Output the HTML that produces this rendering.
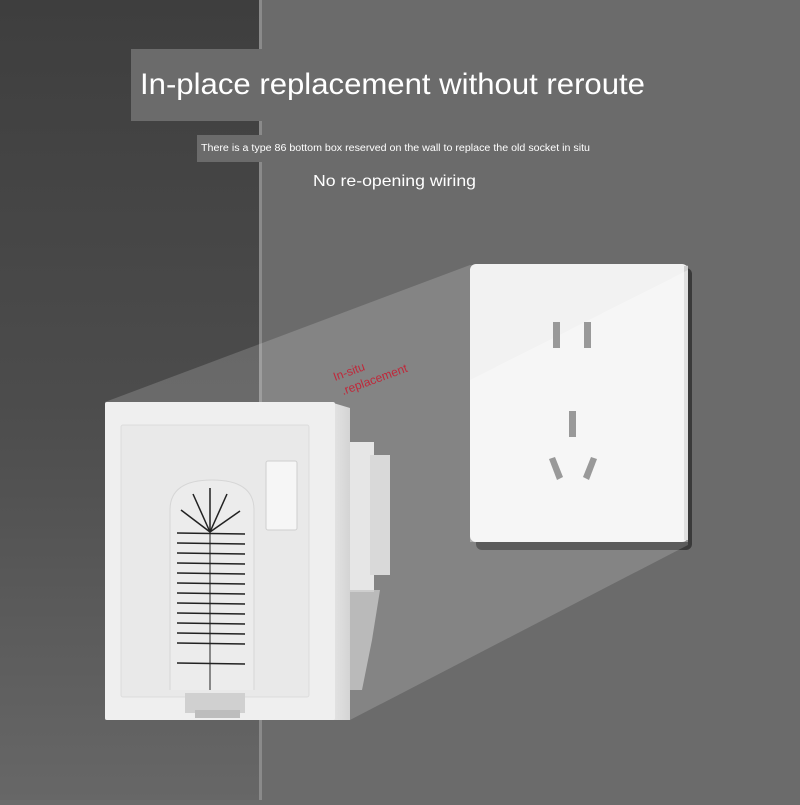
<!DOCTYPE html>
<html><head><style>
body{margin:0;width:800px;height:800px;overflow:hidden;background:#6b6b6b;font-family:"Liberation Sans",sans-serif}
</style></head><body>
<svg width="800" height="800" viewBox="0 0 800 800" xmlns="http://www.w3.org/2000/svg">
<defs>
<linearGradient id="dk" x1="0" y1="0" x2="0" y2="1"><stop offset="0" stop-color="#3e3e3e"/><stop offset="0.5" stop-color="#4c4c4c"/><stop offset="1" stop-color="#676767"/></linearGradient>
<linearGradient id="side" x1="0" y1="0" x2="1" y2="0"><stop offset="0" stop-color="#e6e6e6"/><stop offset="1" stop-color="#d4d4d4"/></linearGradient>
</defs>
<rect width="800" height="800" fill="#6b6b6b"/>
<rect width="259" height="800" fill="url(#dk)"/>
<rect x="259" width="3" height="800" fill="#8a8a8a"/>
<rect x="131" y="49" width="200" height="72" fill="#6b6b6b"/>
<rect x="197" y="135" width="70" height="27" fill="#6b6b6b"/>
<text x="140" y="94" font-size="30" fill="#fff" textLength="505" lengthAdjust="spacingAndGlyphs">In-place replacement without reroute</text>
<text x="201" y="151" font-size="10" fill="#fff" textLength="389" lengthAdjust="spacingAndGlyphs">There is a type 86 bottom box reserved on the wall to replace the old socket in situ</text>
<text x="313" y="186" font-size="16" fill="#fff" textLength="163" lengthAdjust="spacingAndGlyphs">No re-opening wiring</text>
<rect x="476" y="268" width="216" height="282" rx="6" fill="#2e2e2e" opacity="0.8"/>
<polygon points="105,402 470,265 688,265 688,545 350,720 105,720" fill="#fff" opacity="0.17"/>
<rect x="470" y="264" width="218" height="278" rx="6" fill="#f2f2f2"/>
<rect x="684" y="266" width="4" height="274" fill="#d0d0d0"/>
<polygon points="470,380 688,270 688,542 470,542" fill="#fff" opacity="0.35"/>
<rect x="553" y="322" width="7" height="26" fill="#999"/><rect x="584" y="322" width="7" height="26" fill="#999"/>
<rect x="569" y="411" width="7" height="26" fill="#999"/>
<polygon points="549,459 555,457 563,477 557,480" fill="#999"/>
<polygon points="591,457 597,459 589,480 583,477" fill="#999"/>
<text transform="translate(335,381) rotate(-20)" font-size="12" fill="#c0283a">In-situ</text>
<text transform="translate(338,381) rotate(-20)" font-size="12" fill="#c0283a"><tspan x="0" dy="15">.replacement</tspan></text>
<rect x="348" y="442" width="26" height="150" fill="#e6e6e6"/>
<rect x="370" y="455" width="20" height="120" fill="#d9d9d9"/>
<polygon points="348,590 380,590 372,640 362,690 348,690" fill="#c8c8c8" opacity="0.8"/>
<polygon points="330,402 350,408 350,720 330,720" fill="url(#side)"/>
<rect x="105" y="402" width="230" height="318" rx="2" fill="#efefef"/>
<rect x="121" y="425" width="188" height="272" rx="2" fill="#e9e9e9" stroke="#dcdcdc"/>
<rect x="266" y="461" width="31" height="69" rx="2" fill="#f6f6f6" stroke="#cfcfcf"/>
<path d="M170,690 V510 Q170,480 212,480 Q254,480 254,510 V690" fill="#ececec" stroke="#d6d6d6"/>
<g stroke="#222" stroke-width="1.5">
<line x1="210" y1="532" x2="210" y2="690" stroke-width="1"/>
<line x1="210" y1="532" x2="210" y2="488"/><line x1="210" y1="532" x2="193" y2="494"/><line x1="210" y1="532" x2="227" y2="494"/><line x1="210" y1="532" x2="181" y2="510"/><line x1="210" y1="532" x2="240" y2="511"/>
<line x1="177" y1="533" x2="245" y2="534"/><line x1="177" y1="543" x2="245" y2="544"/><line x1="177" y1="553" x2="245" y2="554"/><line x1="177" y1="563" x2="245" y2="564"/><line x1="177" y1="573" x2="245" y2="574"/><line x1="177" y1="583" x2="245" y2="584"/><line x1="177" y1="593" x2="245" y2="594"/><line x1="177" y1="603" x2="245" y2="604"/><line x1="177" y1="613" x2="245" y2="614"/><line x1="177" y1="623" x2="245" y2="624"/><line x1="177" y1="633" x2="245" y2="634"/><line x1="177" y1="643" x2="245" y2="644"/><line x1="177" y1="663" x2="245" y2="664"/>
</g>
<rect x="185" y="693" width="60" height="20" fill="#d0d0d0"/>
<rect x="195" y="710" width="45" height="8" fill="#bdbdbd"/>
</svg>
</body></html>
